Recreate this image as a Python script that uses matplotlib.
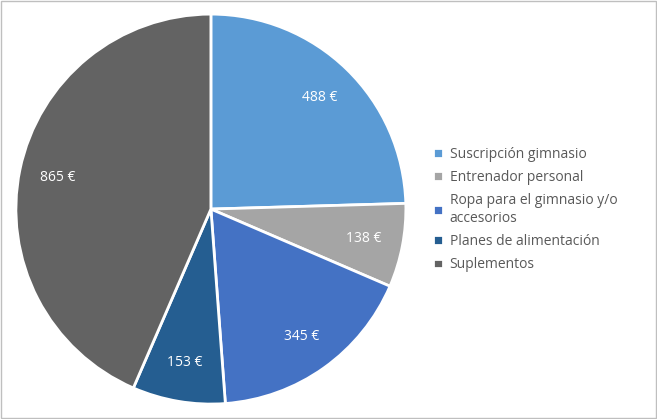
import matplotlib
matplotlib.use("Agg")
import matplotlib.pyplot as plt
from matplotlib.patches import Rectangle

categories = ["Suscripción gimnasio", "Entrenador personal", "Ropa para el gimnasio y/o\naccesorios",
              "Planes de alimentación", "Suplementos"]
values = [488, 138, 345, 153, 865]
colors = ["#5B9BD5", "#A5A5A5", "#4472C4", "#255E91", "#636363"]

plt.rcParams["font.family"] = "Open Sans"
fig = plt.figure(figsize=(6.57, 4.19), dpi=100)
fig.patches.append(Rectangle((0.002, 0.002), 0.996, 0.995, transform=fig.transFigure,
                             fill=False, edgecolor="#BFBFBF", linewidth=1))
ax = fig.add_axes([0.021, 0.031, 0.6, 0.94])
total = sum(values)
wedges, texts, autotexts = ax.pie(values, colors=colors, startangle=90, counterclock=False,
       wedgeprops=dict(edgecolor="white", linewidth=2),
       autopct=lambda p: f"{round(p*total/100):.0f} €", pctdistance=0.8,
       textprops=dict(color="white", fontsize=10))
ax.set_xlim(-1.01, 1.01)
ax.set_ylim(-1.01, 1.01)
ax.set_aspect("equal")
fig.legend(wedges, categories, loc="center left", bbox_to_anchor=(0.64, 0.5), frameon=False,
           fontsize=10, labelcolor="#595959", handlelength=0.7, handleheight=0.7,
           handletextpad=0.5, labelspacing=0.6)
fig.savefig("out.png", dpi=100)
